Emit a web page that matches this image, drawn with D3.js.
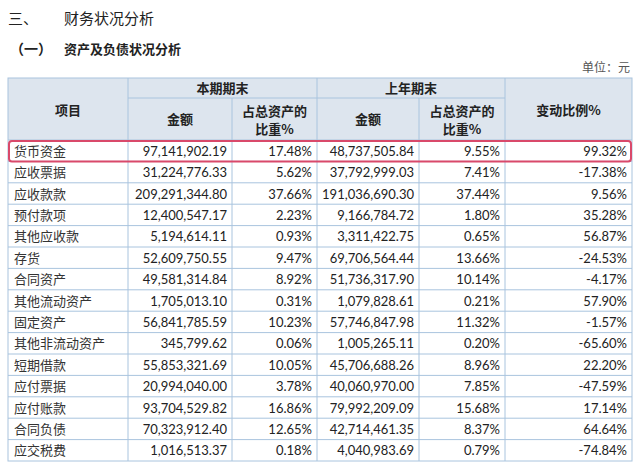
<!DOCTYPE html>
<html><head><meta charset="utf-8">
<script src="https://cdn.jsdelivr.net/npm/d3@7"></script>
<style>body{margin:0;background:#fff}</style>
</head><body><svg id="c" width="640" height="468"></svg>
<script>
const items = ["货币资金","应收票据","应收款款","预付款项","其他应收款","存货","合同资产","其他流动资产","固定资产","其他非流动资产","短期借款","应付票据","应付账款","合同负债","应交税费"];
const curAmount = ["97,141,902.19","31,224,776.33","209,291,344.80","12,400,547.17","5,194,614.11","52,609,750.55","49,581,314.84","1,705,013.10","56,841,785.59","345,799.62","55,853,321.69","20,994,040.00","93,704,529.82","70,323,912.40","1,016,513.37"];
const curShare = ["17.48%","5.62%","37.66%","2.23%","0.93%","9.47%","8.92%","0.31%","10.23%","0.06%","10.05%","3.78%","16.86%","12.65%","0.18%"];
const prevAmount = ["48,737,505.84","37,792,999.03","191,036,690.30","9,166,784.72","3,311,422.75","69,706,564.44","51,736,317.90","1,079,828.61","57,746,847.98","1,005,265.11","45,706,688.26","40,060,970.00","79,992,209.09","42,714,461.35","4,040,983.69"];
const prevShare = ["9.55%","7.41%","37.44%","1.80%","0.65%","13.66%","10.14%","0.21%","11.32%","0.20%","8.96%","7.85%","15.68%","8.37%","0.79%"];
const change = ["99.32%","-17.38%","9.56%","35.28%","56.87%","-24.53%","-4.17%","57.90%","-1.57%","-65.60%","22.20%","-47.59%","17.14%","64.64%","-74.84%"];

const svg = d3.select("#c");
const cols = [8,128,232,317,419,505,632];
const headTop = 78, headMid = 98, headBot = 140;
const y = d3.scaleBand().domain(d3.range(items.length)).range([headBot, headBot + 21.4*items.length]);
const cn = "'Noto Sans CJK SC', sans-serif", num = "Lato, 'Open Sans', sans-serif";
const line = "#a9c4de";

svg.append("text").attr("x",8).attr("y",24).attr("font-family",cn).attr("font-size",15).attr("fill","#222").text("三、");
svg.append("text").attr("x",64).attr("y",24).attr("font-family",cn).attr("font-size",15).attr("fill","#222").text("财务状况分析");
svg.append("text").attr("x",10).attr("y",54).attr("font-family",cn).attr("font-size",14).attr("font-weight","bold").attr("fill","#222").text("（一）");
svg.append("text").attr("x",64).attr("y",54).attr("font-family",cn).attr("font-size",13).attr("font-weight","bold").attr("fill","#222").text("资产及负债状况分析");
svg.append("text").attr("x",630).attr("y",72).attr("text-anchor","end").attr("font-family",cn).attr("font-size",12).attr("fill","#555").text("单位：元");

// header background
svg.append("rect").attr("x",cols[0]).attr("y",headTop).attr("width",cols[6]-cols[0]).attr("height",headBot-headTop).attr("fill","#dde5ee");

const hdr = (x,yy,t) => svg.append("text").attr("x",x).attr("y",yy).attr("text-anchor","middle").attr("font-family",cn).attr("font-size",13).attr("font-weight","bold").attr("fill","#222").text(t);
hdr((cols[0]+cols[1])/2,115,"项目");
hdr((cols[1]+cols[3])/2,93,"本期期末");
hdr((cols[3]+cols[5])/2,93,"上年期末");
hdr((cols[5]+cols[6])/2,115,"变动比例%");
hdr((cols[1]+cols[2])/2,124,"金额");
hdr((cols[3]+cols[4])/2,124,"金额");
[[cols[2],cols[3]],[cols[4],cols[5]]].forEach(([a,b])=>{hdr((a+b)/2,116,"占总资产的");hdr((a+b)/2,134,"比重%");});

// grid
const bottom = y.range()[1];
svg.append("rect").attr("x",cols[0]).attr("y",headTop).attr("width",cols[6]-cols[0]).attr("height",bottom-headTop).attr("fill","none").attr("stroke",line);
cols.slice(1,6).forEach((c,i)=>{
  const top = (i===1||i===3) ? headMid : headTop;
  svg.append("line").attr("x1",c).attr("x2",c).attr("y1",top).attr("y2",bottom).attr("stroke",line);
});
svg.append("line").attr("x1",cols[1]).attr("x2",cols[5]).attr("y1",headMid).attr("y2",headMid).attr("stroke",line);
items.forEach((d,i)=>{
  svg.append("line").attr("x1",cols[0]).attr("x2",cols[6]).attr("y1",y(i)).attr("y2",y(i)).attr("stroke",line);
});

const rows = svg.selectAll("g.row").data(items).join("g").attr("class","row")
  .attr("transform",(d,i)=>`translate(0,${y(i)+y.bandwidth()/2+5})`);
rows.append("text").attr("x",cols[0]+6).attr("font-family",cn).attr("font-size",13).attr("fill","#333").text(d=>d);
[curAmount,curShare,prevAmount,prevShare,change].forEach((arr,k)=>{
  rows.append("text").attr("x",cols[k+2]-5).attr("text-anchor","end").attr("font-family",num).attr("font-size",13).attr("fill","#222").text((d,i)=>arr[i]);
});

// highlight first row
svg.append("rect").attr("x",cols[0]+1).attr("y",y(0)+1).attr("width",cols[6]-cols[0]-2).attr("height",y.bandwidth()-1)
  .attr("rx",3).attr("fill","none").attr("stroke","#d9496a").attr("stroke-width",2);
</script></body></html>
